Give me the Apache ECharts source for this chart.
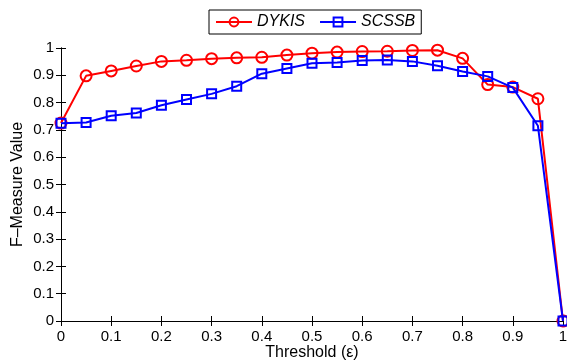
<!DOCTYPE html>
<html>
<head>
<meta charset="utf-8">
<script src="https://cdn.jsdelivr.net/npm/echarts@6/dist/echarts.min.js"></script>
<style>
html,body{margin:0;padding:0;background:#fff;}
#chart{width:567px;height:362px;}
</style>
</head>
<body>
<div id="chart"></div>
<script>
// Threshold values along the x axis
const thresholds = [0, 0.05, 0.1, 0.15, 0.2, 0.25, 0.3, 0.35, 0.4, 0.45, 0.5,
  0.55, 0.6, 0.65, 0.7, 0.75, 0.8, 0.85, 0.9, 0.95, 1];
// F-measure per method
const dykis = [0.725, 0.898, 0.916, 0.934, 0.951, 0.955, 0.961, 0.964, 0.966, 0.974, 0.981,
  0.985, 0.987, 0.988, 0.991, 0.992, 0.962, 0.866, 0.857, 0.814, 0];
const scssb = [0.724, 0.727, 0.752, 0.762, 0.79, 0.811, 0.832, 0.86, 0.906, 0.925, 0.944,
  0.947, 0.954, 0.956, 0.951, 0.935, 0.914, 0.896, 0.855, 0.715, 0];
const seriesNames = ['DYKIS', 'SCSSB'];
const xTicks = [0, 0.1, 0.2, 0.3, 0.4, 0.5, 0.6, 0.7, 0.8, 0.9, 1];

const font = 'Liberation Sans, Arial, Helvetica, sans-serif';
const chart = echarts.init(document.getElementById('chart'));

const pairs = arr => thresholds.map((t, i) => [t, arr[i]]);

const frameAxis = {
  axisLine: {show: true, lineStyle: {color: '#000', width: 1}},
  axisTick: {show: true, inside: true, length: 5, lineStyle: {color: '#000'}},
  splitLine: {show: false}
};

chart.setOption({
  animation: false,
  backgroundColor: '#fff',
  grid: {left: 61, right: 4, top: 48, bottom: 41, outerBoundsMode: 'none', containLabel: false},
  legend: {
    data: seriesNames,
    top: 10,
    left: 209,
    itemWidth: 36,
    itemHeight: 11,
    itemGap: 14,
    padding: [4, 6, 4, 6],
    borderColor: '#000',
    borderWidth: 1,
    textStyle: {fontFamily: font, fontSize: 16, fontStyle: 'italic', color: '#000'}
  },
  xAxis: [
    Object.assign({
      type: 'value', min: 0, max: 1, interval: 0.1,
      name: 'Threshold (ε)', nameLocation: 'middle', nameGap: 24, nameMoveOverlap: false,
      nameTextStyle: {fontFamily: font, fontSize: 16, color: '#000', verticalAlign: 'top'},
      axisLabel: {
        fontFamily: font, fontSize: 15, color: '#000', margin: 8,
        formatter: v => {
          const t = xTicks.find(x => Math.abs(x - v) < 1e-9);
          return t === undefined ? '' : String(t);
        }
      }
    }, frameAxis),
    Object.assign({
      type: 'value', min: 0, max: 1, interval: 0.1, position: 'top',
      axisLabel: {show: false}
    }, frameAxis)
  ],
  yAxis: [
    Object.assign({
      type: 'value', min: 0, max: 1, interval: 0.1,
      name: 'F–Measure Value', nameLocation: 'middle', nameGap: 35, nameMoveOverlap: false,
      nameTextStyle: {fontFamily: font, fontSize: 16, color: '#000'},
      axisLabel: {
        fontFamily: font, fontSize: 15, color: '#000', margin: 7,
        formatter: v => String(Math.round(v * 10) / 10)
      }
    }, frameAxis),
    Object.assign({
      type: 'value', min: 0, max: 1, interval: 0.1, position: 'right',
      axisLabel: {show: false}
    }, frameAxis)
  ],
  series: [
    {
      name: seriesNames[0], type: 'line', data: pairs(dykis),
      symbol: 'circle', symbolSize: 11, showAllSymbol: true,
      lineStyle: {color: '#ff0000', width: 2},
      itemStyle: {color: 'rgba(255,255,255,0)', borderColor: '#ff0000', borderWidth: 2},
      z: 2
    },
    {
      name: seriesNames[1], type: 'line', data: pairs(scssb),
      symbol: 'rect', symbolSize: 9, showAllSymbol: true,
      lineStyle: {color: '#0000ff', width: 2},
      itemStyle: {color: 'rgba(255,255,255,0)', borderColor: '#0000ff', borderWidth: 2},
      z: 3
    }
  ]
});
</script>
</body>
</html>
